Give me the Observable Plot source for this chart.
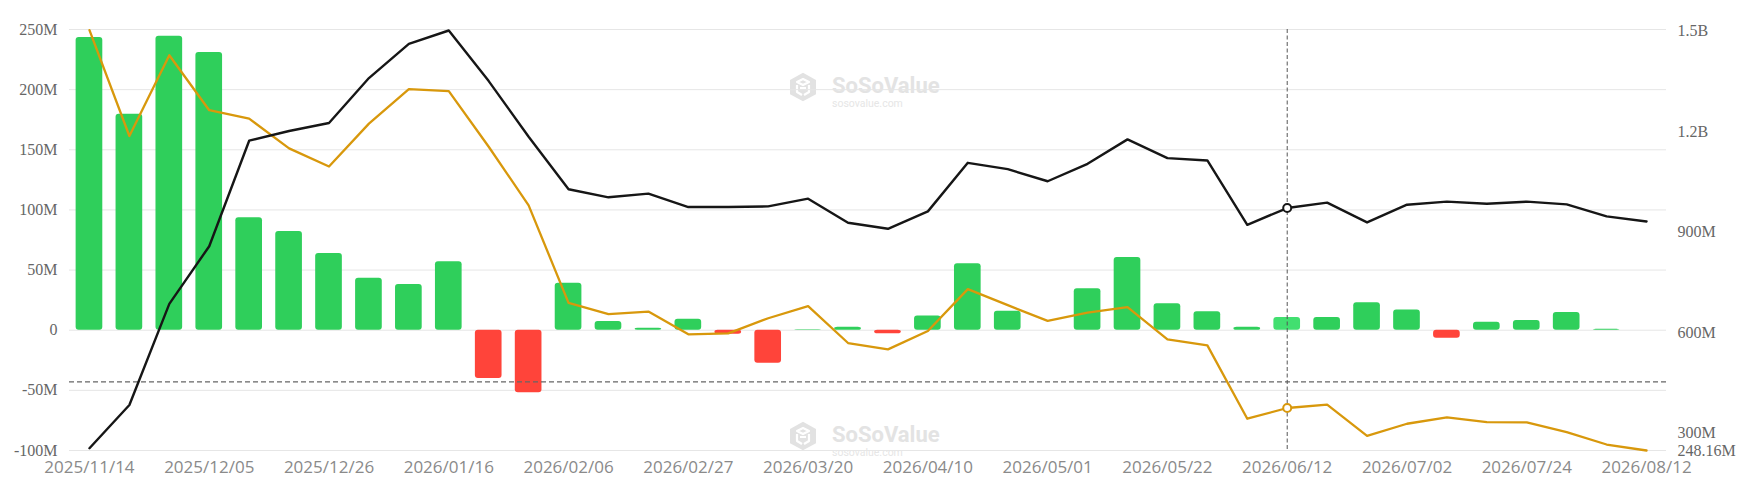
<!DOCTYPE html>
<html>
<head>
<meta charset="utf-8">
<script src="https://cdn.jsdelivr.net/npm/d3@7"></script>
<script src="https://cdn.jsdelivr.net/npm/@observablehq/plot@0.6"></script>
<style>
  html, body { margin: 0; padding: 0; background: #ffffff; }
  #wrap { position: relative; width: 1744px; height: 501px; }
  #wm { position: absolute; left: 0; top: 0; }
  #chart { position: absolute; left: 0; top: 0; }
</style>
</head>
<body>
<div id="wrap">
  <svg id="wm" width="1744" height="501"></svg>
  <div id="chart"></div>
</div>
<script>
// ---- data (values in millions USD) ----
const dates = [
  "2025/11/14","2025/11/21","2025/11/28","2025/12/05","2025/12/12","2025/12/19","2025/12/26",
  "2026/01/02","2026/01/09","2026/01/16","2026/01/23","2026/01/30","2026/02/06","2026/02/13",
  "2026/02/20","2026/02/27","2026/03/06","2026/03/13","2026/03/20","2026/03/27","2026/04/03",
  "2026/04/10","2026/04/17","2026/04/24","2026/05/01","2026/05/08","2026/05/15","2026/05/22",
  "2026/05/29","2026/06/05","2026/06/12","2026/06/19","2026/06/26","2026/07/02","2026/07/10",
  "2026/07/17","2026/07/24","2026/07/31","2026/08/07","2026/08/12"
];
const netInflowM = [
  243.3, 179.5, 244.4, 230.9, 93.5, 82.1, 63.8,
  43.3, 38.0, 56.9, -40.2, -51.9, 39.1, 7.3,
  1.7, 9.2, -3.3, -27.5, 0.4, 2.5, -3.0,
  11.9, 55.2, 15.8, 0, 34.4, 60.5, 21.9,
  15.3, 2.5, 10.5, 10.5, 22.8, 16.9, -6.7,
  6.7, 8.0, 14.7, 0.8, 0
];
const netAssetsM = [
  255, 384, 686, 858, 1173, 1202, 1226,
  1360, 1462, 1502, 1351, 1185, 1028, 1004,
  1015, 975, 975, 977, 1000, 928, 910,
  962, 1107, 1088, 1052, 1104, 1177, 1121,
  1114, 922, 972, 988, 929, 982, 991,
  985, 991, 983, 947, 932
];
const tradedValueM = [
  1503, 1187, 1428, 1264, 1239, 1150, 1096,
  1224, 1327, 1321, 1155, 980, 689, 655,
  663, 595, 598, 643, 679, 569, 550,
  605, 730, 682, 635, 660, 676, 580,
  562, 343, 375, 385, 292, 328, 347,
  333, 332, 303, 266, 248.16
];
const leftTicks = [250, 200, 150, 100, 50, 0, -50, -100];
const rightTicks = [1500, 1200, 900, 600, 300, 248.16];
const rightTickLabels = ["1.5B", "1.2B", "900M", "600M", "300M", "248.16M"];
const xTickLabels = dates.filter((d, i) => i % 3 === 0);
const hoverDate = "2026/06/12";
const crosshairYM = -43.0;

// ---- dual-axis mapping ----
const leftDomain = [-100, 250];
const rightDomain = [248.16, 1505];
const toLeft = v => leftDomain[0] + (v - rightDomain[0]) / (rightDomain[1] - rightDomain[0]) * (leftDomain[1] - leftDomain[0]);

const rows = dates.map((d, i) => ({
  date: d,
  flow: netInflowM[i],
  assets: toLeft(netAssetsM[i]),
  traded: toLeft(tradedValueM[i]),
  fill: netInflowM[i] < 0 ? "#ff443a" : (d === hoverDate ? "#42df70" : "#2fcf5b")
}));
const hoverRows = rows.filter(r => r.date === hoverDate);

const fmtLeft = v => v === 0 ? "0" : `${v}M`;
const serif = "'Liberation Serif', 'DejaVu Serif', serif";
const sans = "'Open Sans', sans-serif";

const chart = Plot.plot({
  width: 1744,
  height: 501,
  marginLeft: 69,
  marginRight: 78,
  marginTop: 29,
  marginBottom: 51,
  style: { background: "transparent", overflow: "visible", fontFamily: sans, fontSize: "17px" },
  x: { type: "band", domain: dates, paddingInner: 0.332, paddingOuter: 0.166, axis: null },
  y: { domain: leftDomain, axis: null },
  color: { type: "identity" },
  marks: [
    Plot.gridY(leftTicks, { stroke: "#e6e6e6", strokeOpacity: 1, strokeWidth: 1 }),
    Plot.text(leftTicks, {
      y: d => d, text: fmtLeft,
      frameAnchor: "left", dx: -12, textAnchor: "end",
      fontFamily: serif, fontSize: 16, fill: "#666"
    }),
    Plot.text(rightTicks, {
      y: d => toLeft(d), text: (d, i) => rightTickLabels[i],
      frameAnchor: "right", dx: 11, textAnchor: "start",
      fontFamily: serif, fontSize: 16, fill: "#666"
    }),
    Plot.text(xTickLabels, {
      x: d => d, text: d => d,
      frameAnchor: "bottom", lineAnchor: "top", dy: 10,
      fontFamily: sans, fontSize: 17, fill: "#8a8a8a"
    }),
    Plot.barY(rows, { x: "date", y: "flow", fill: "fill", rx: 3 }),
    Plot.ruleY([crosshairYM], { stroke: "#666", strokeWidth: 1.3, strokeDasharray: "5,3" }),
    Plot.ruleX([hoverDate], { stroke: "#555", strokeWidth: 1, strokeDasharray: "4,2.5" }),
    Plot.lineY(rows, { x: "date", y: "traded", stroke: "#d8980c", strokeWidth: 2.3 }),
    Plot.lineY(rows, { x: "date", y: "assets", stroke: "#161616", strokeWidth: 2.4 }),
    Plot.dot(hoverRows, { x: "date", y: "assets", r: 4, stroke: "#161616", strokeWidth: 2, fill: "white" }),
    Plot.dot(hoverRows, { x: "date", y: "traded", r: 4, stroke: "#d8980c", strokeWidth: 2, fill: "white" })
  ]
});
document.getElementById("chart").appendChild(chart);

// ---- watermark (decoration) ----
const wm = d3.select("#wm");
function watermark(x, y) {
  const g = wm.append("g").attr("transform", `translate(${x},${y})`);
  const hx = 15, hy = 14, R = 15;
  const pts = d3.range(6).map(k => {
    const a = Math.PI / 3 * k - Math.PI / 2;
    return [hx + R * Math.cos(a), hy + R * Math.sin(a) * 0.95];
  });
  g.append("polygon").attr("points", pts.map(p => p.join(",")).join(" ")).attr("fill", "#e2e2e2");
  g.append("path")
    .attr("d", "M9,9 L15,6 L21,9 L15,12 Z M9,12 L9,19 L14,22 M21,12 L21,19 L16,22 M12,15 L18,15")
    .attr("fill", "none").attr("stroke", "#fff").attr("stroke-width", 2.2).attr("stroke-linejoin", "round");
  g.append("text").attr("x", 44).attr("y", 19.5).text("SoSoValue")
    .attr("font-family", "Roboto, sans-serif").attr("font-weight", 700).attr("font-size", 22)
    .attr("fill", "#e3e3e3");
  g.append("text").attr("x", 44).attr("y", 34).text("sosovalue.com")
    .attr("font-family", "Roboto, sans-serif").attr("font-size", 10.5)
    .attr("fill", "#e6e6e6");
}
watermark(788, 73);
watermark(788, 422);
</script>
</body>
</html>
